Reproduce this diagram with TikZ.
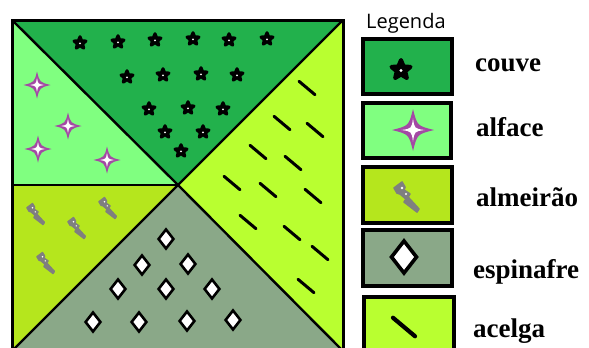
\documentclass[tikz,border=0pt]{standalone}
\usepackage{fontspec}
\setmainfont{Liberation Serif}
\newfontfamily\legfont{Open Sans}
\definecolor{couveC}{HTML}{22B14C}
\definecolor{alfaceC}{HTML}{80FF80}
\definecolor{almeiraoC}{HTML}{B5E61D}
\definecolor{espinafreC}{HTML}{8AA888}
\definecolor{acelgaC}{HTML}{B9FF30}
\definecolor{sparkC}{HTML}{A349A4}
\definecolor{almGrey}{HTML}{7F7F7F}
\tikzset{
  border/.style={draw=black,line width=3pt,line join=miter},
  divider/.style={draw=black,line width=2.4pt},
  legbox/.style={draw=black,line width=4pt},
  label/.style={anchor=base west,font=\bfseries\fontsize{27}{30}\selectfont,inner sep=0pt},
  pics/cstar/.style={code={
    \fill[black,draw=black,line width=#1,line join=round]
      (-90:1) -- (-54:0.45) -- (-18:1) -- (18:0.45) -- (54:1) -- (90:0.45)
      -- (126:1) -- (162:0.45) -- (198:1) -- (234:0.45) -- cycle;
    \fill[white] (0,0.05) circle (0.16);
  }},
  pics/spark/.style={code={
    \fill[sparkC] (0,-1) .. controls (0.2,-0.2) .. (1,0) .. controls (0.2,0.2) .. (0,1)
      .. controls (-0.2,0.2) .. (-1,0) .. controls (-0.2,-0.2) .. (0,-1) -- cycle;
    \fill[white] (0,-0.55) .. controls (0.07,-0.07) .. (0.55,0) .. controls (0.07,0.07) .. (0,0.55)
      .. controls (-0.07,0.07) .. (-0.55,0) .. controls (-0.07,-0.07) .. (0,-0.55) -- cycle;
  }},
  pics/almeirao/.style={code={
    \fill[almGrey,draw=almGrey,line width=#1,line join=round]
      (-13,-9) -- (-5,-15) -- (-2,-10) -- (-3,-7) -- (3,-3) -- (1,0) -- (12,12)
      -- (10,15) -- (-3,5) -- (-1,2) -- (-7,-3) -- (-10,-4) -- cycle;
    \fill[white] (-5,-9) circle (1.3);
    \fill[white] (-1,-3) circle (1.1);
  }},
  pics/diam/.style={code={
    \filldraw[fill=white,draw=black,line width=#1,line join=miter]
      (0,-1) -- (0.78,0) -- (0,1) -- (-0.78,0) -- cycle;
  }},
  pics/dash/.style={code={
    \draw[black,line width=#1,line cap=round] (-0.5,-0.42) -- (0.5,0.42);
  }},
}
\begin{document}
\begin{tikzpicture}[x=1pt,y=-1pt]
\useasboundingbox (0,0) rectangle (589,348);
\clip (0,0) rectangle (589,348);
\fill[white] (0,0) rectangle (589,348);
% corners
\coordinate (TL) at (12,20);
\coordinate (TR) at (343,20);
\coordinate (BL) at (12,351);
\coordinate (BR) at (343,351);
\coordinate (C) at (178,185);
\coordinate (ML) at (12,185);
% regions
\fill[couveC] (TL) -- (TR) -- (C) -- cycle;
\fill[alfaceC] (TL) -- (C) -- (ML) -- cycle;
\fill[almeiraoC] (ML) -- (C) -- (BL) -- cycle;
\fill[espinafreC] (C) -- (BR) -- (BL) -- cycle;
\fill[acelgaC] (TR) -- (BR) -- (C) -- cycle;
\draw[divider] (TL) -- (C) -- (TR);
\draw[divider] (BL) -- (C) -- (BR);
\draw[divider] (ML) -- (C);
\draw[border] (TL) rectangle (BR);
% couve stars
\foreach \p in {(80,43),(118,42),(155,40),(193,39),(229,40),(267,39),
  (127,77),(163,75),(201,74),(237,75),(149,109),(188,108),(223,109),
  (165,132),(203,132),(181,151)}
  \pic[scale=6.3] at \p {cstar=3pt};
% alface sparkles
\foreach \p in {(37,85),(68,126),(38,149),(107,160)}
  \pic[scale=13.5] at \p {spark};
% almeirao
\foreach \p in {(36,214),(108,208),(77,228),(46,263)}
  \pic[scale=0.7] at \p {almeirao=1.4pt};
% espinafre diamonds
\foreach \p in {(166,239),(142,265),(188,264),(118,289),(166,289),(212,289),
  (93,322),(139,322),(187,321),(233,320)}
  \pic[scale=9.5] at \p {diam=2.6pt};
% acelga dashes
\foreach \p in {(307,88),(282,123),(315,130),(258,152),(293,163),(232,183),
  (268,190),(313,196),(248,222),(292,233),(320,253),(306,286)}
  \pic[scale=16] at \p {dash=3pt};
% legend
\node[anchor=base west,inner sep=0pt,font=\legfont\fontsize{20}{24}\selectfont] (leg) at (366,28) {Legenda};
\filldraw[legbox,fill=couveC] (363,39) rectangle (452,94);
\filldraw[legbox,fill=alfaceC] (363,103) rectangle (451,158);
\filldraw[legbox,fill=almeiraoC] (363,167) rectangle (452,223);
\filldraw[legbox,fill=espinafreC] (363,230) rectangle (452,286);
\filldraw[legbox,fill=acelgaC] (364,297) rectangle (454,356);
\pic[scale=10] at (401,70) {cstar=4pt};
\pic[scale=21] at (413,130) {spark};
\pic at (407,197) {almeirao=1.6pt};
\pic[scale=16] at (404,257) {diam=3.6pt};
\pic[scale=22] at (404,327) {dash=4.2pt};
\node[label] (l1) at (475,71) {couve};
\node[label] (l2) at (476,136) {alface};
\node[label] (l3) at (476,206) {almeirão};
\node[label] (l4) at (473,278) {espinafre};
\node[label] (l5) at (473,337) {acelga};
\end{tikzpicture}
\end{document}
